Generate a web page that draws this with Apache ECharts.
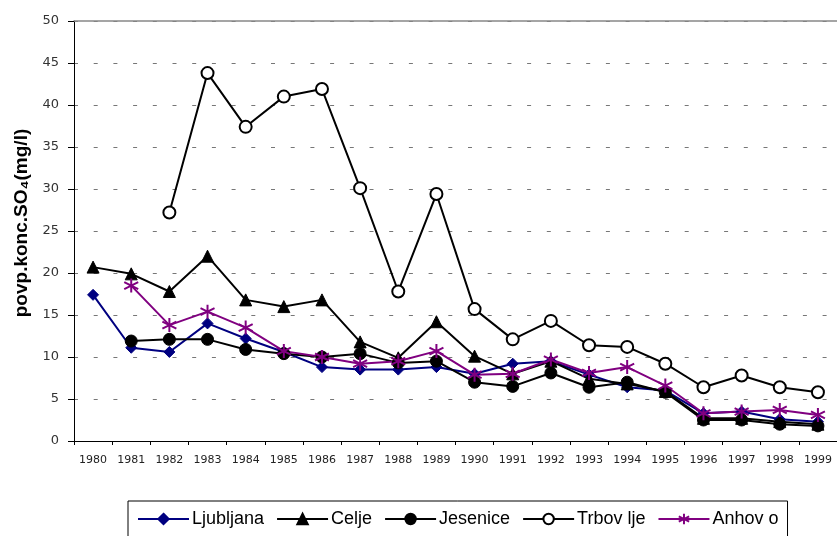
<!DOCTYPE html>
<html>
<head>
<meta charset="utf-8">
<script src="https://cdn.jsdelivr.net/npm/echarts@6/dist/echarts.min.js"></script>
<style>
html,body{margin:0;padding:0;background:#fff;}
#c{width:837px;height:536px;}
</style>
</head>
<body>
<div id="c"></div>
<script>
const years = ['1980','1981','1982','1983','1984','1985','1986','1987','1988','1989','1990','1991','1992','1993','1994','1995','1996','1997','1998','1999'];
const ljubljana = [17.4, 11.1, 10.6, 14.0, 12.2, 10.6, 8.8, 8.5, 8.5, 8.8, 8.0, 9.2, 9.5, 7.9, 6.4, 6.0, 3.3, 3.5, 2.6, 2.3];
const celje = [20.7, 19.9, 17.8, 22.0, 16.8, 16.0, 16.8, 11.8, 9.9, 14.2, 10.1, 8.0, 9.5, 7.4, 6.8, 5.9, 2.7, 2.7, 2.3, 2.0];
const jesenice = [null, 11.9, 12.1, 12.1, 10.9, 10.4, 10.0, 10.4, 9.3, 9.5, 7.0, 6.5, 8.1, 6.4, 7.0, 5.8, 2.5, 2.5, 2.0, 1.8];
const trbovlje = [null, null, 27.2, 43.8, 37.4, 41.0, 41.9, 30.1, 17.8, 29.4, 15.7, 12.1, 14.3, 11.4, 11.2, 9.2, 6.4, 7.8, 6.4, 5.8];
const anhovo = [null, 18.5, 13.8, 15.4, 13.5, 10.7, 10.0, 9.2, 9.5, 10.7, 7.9, 8.0, 9.7, 8.1, 8.8, 6.6, 3.3, 3.5, 3.7, 3.1];
const seriesNames = ['Ljubljana', 'Celje', 'Jesenice', 'Trbov lje', 'Anhov o'];
const yTicks = [0, 5, 10, 15, 20, 25, 30, 35, 40, 45, 50];

const starPath = 'path://M0,-10L0,10M-8.66,-5L8.66,5M-8.66,5L8.66,-5';

function mk(name, data, color, symbol, size, fill) {
  return {
    name: name, type: 'line', data: data,
    symbol: symbol, symbolSize: size,
    lineStyle: {color: color, width: 2},
    itemStyle: {color: fill, borderColor: color, borderWidth: fill === '#ffffff' ? 2 : 1},
    emphasis: {disabled: true},
    animation: false,
    connectNulls: false
  };
}

const chart = echarts.init(document.getElementById('c'), null, {renderer: 'canvas'});
const anh = mk(seriesNames[4], anhovo, '#800080', starPath, 14, '#800080');
anh.itemStyle = {color: 'none', borderColor: '#800080', borderWidth: 2};

chart.setOption({
  animation: false,
  backgroundColor: '#ffffff',
  grid: {left: 74, top: 21, width: 766, height: 420},
  xAxis: [{
    type: 'category', data: years, boundaryGap: true,
    axisLine: {lineStyle: {color: '#000', width: 1}},
    axisTick: {show: true, length: 4, lineStyle: {color: '#000'}},
    axisLabel: {fontFamily: 'DejaVu Sans', fontSize: 11, color: '#222', margin: 14, interval: 0}
  }, {
    type: 'category', data: years, position: 'top',
    axisLine: {show: true, lineStyle: {color: '#888', width: 1.5}},
    axisTick: {show: false}, axisLabel: {show: false}, splitLine: {show: false}
  }],
  yAxis: {
    type: 'value', min: yTicks[0], max: yTicks[yTicks.length - 1], interval: 5,
    name: 'povp.konc.SO₄(mg/l)', nameLocation: 'middle', nameGap: 42, nameRotate: 90,
    nameTextStyle: {fontFamily: 'Liberation Sans', fontWeight: 'bold', fontSize: 19, color: '#000', padding: [0, 0, 0, 16]},
    axisLine: {show: true, lineStyle: {color: '#000', width: 1}},
    axisTick: {show: true, length: 6, lineStyle: {color: '#000'}},
    axisLabel: {fontFamily: 'DejaVu Sans', fontSize: 13, color: '#333', margin: 15},
    splitLine: {show: true, lineStyle: {color: '#777', width: 1, type: [4, 15.7]}}
  },
  legend: {
    left: 128, top: 501, orient: 'horizontal',
    padding: [9, 9, 10, 9],
    borderColor: '#000', borderWidth: 1,
    itemWidth: 51, itemHeight: 13, itemGap: 12,
    textStyle: {fontFamily: 'Liberation Sans', fontSize: 18, color: '#000', padding: [0, 0, 0, -2]},
    data: seriesNames
  },
  series: [
    mk(seriesNames[0], ljubljana, '#000080', 'diamond', 11, '#000080'),
    mk(seriesNames[1], celje, '#000000', 'triangle', 12, '#000000'),
    mk(seriesNames[2], jesenice, '#000000', 'circle', 12, '#000000'),
    mk(seriesNames[3], trbovlje, '#000000', 'circle', 12, '#ffffff'),
    anh
  ]
});
</script>
</body>
</html>
